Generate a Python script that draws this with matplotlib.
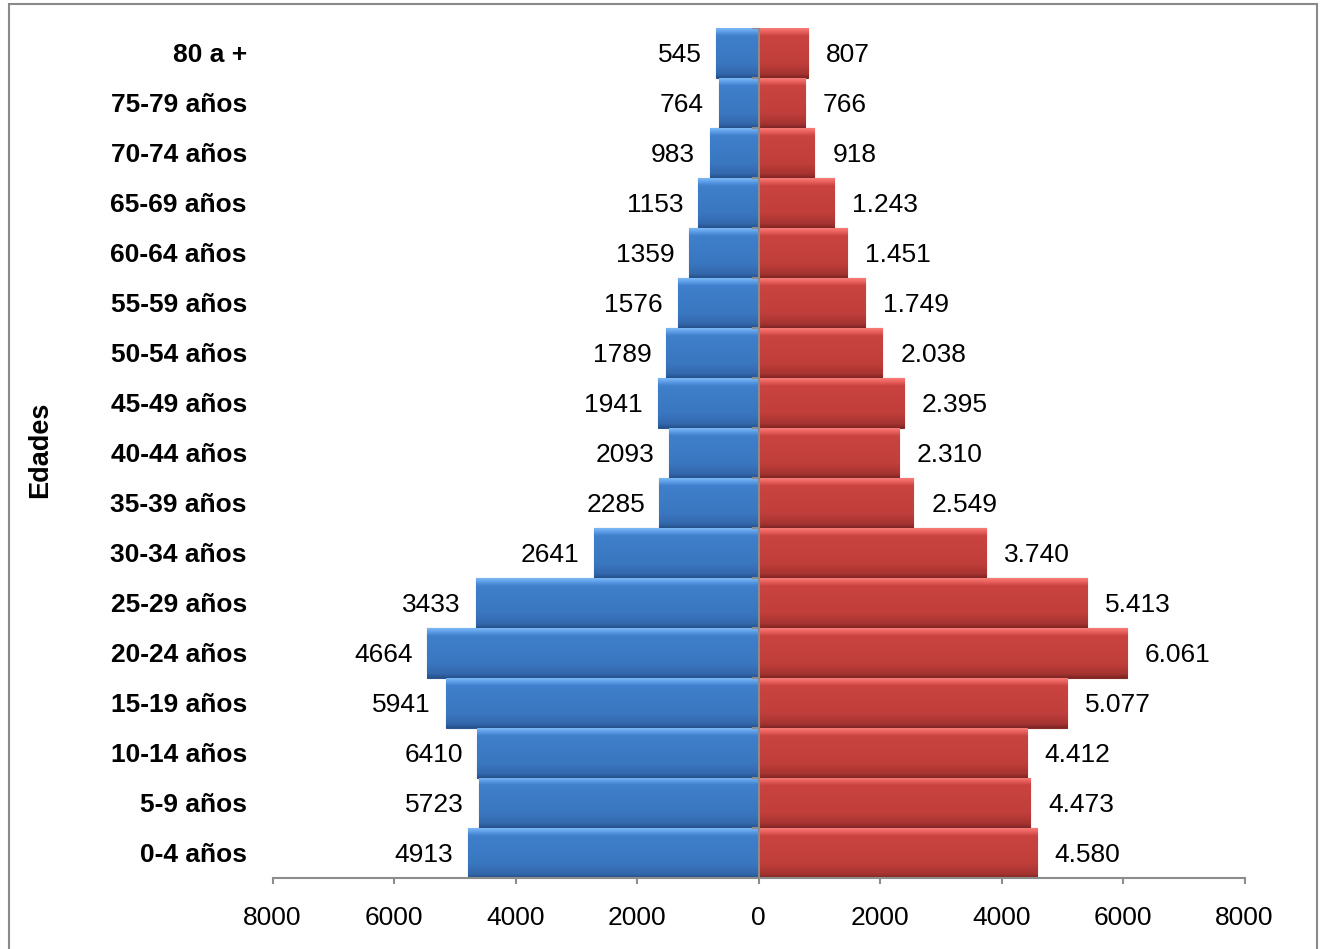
import numpy as np
import matplotlib
matplotlib.use("Agg")
import matplotlib.pyplot as plt
from matplotlib.colors import LinearSegmentedColormap
from matplotlib.patches import Rectangle

plt.rcParams['font.family'] = ['Liberation Sans', 'DejaVu Sans']

edades = ['0-4 años', '5-9 años', '10-14 años', '15-19 años', '20-24 años',
          '25-29 años', '30-34 años', '35-39 años', '40-44 años', '45-49 años',
          '50-54 años', '55-59 años', '60-64 años', '65-69 años', '70-74 años',
          '75-79 años', '80 a +']
# bar lengths as drawn (left side) and the labels written next to them
hombres = [4790, 4609, 4626, 5152, 5449, 4658, 2716, 1630, 1481, 1662,
           1519, 1333, 1136, 988, 806, 658, 696]
hombres_etiq = ['4913', '5723', '6410', '5941', '4664', '3433', '2641', '2285',
                '2093', '1941', '1789', '1576', '1359', '1153', '983', '764', '545']
mujeres = [4580, 4473, 4412, 5077, 6061, 5413, 3740, 2549, 2310, 2395,
           2038, 1749, 1451, 1243, 918, 766, 807]
xticks = [-8000, -6000, -4000, -2000, 0, 2000, 4000, 6000, 8000]

W, H = 1320, 949
fig = plt.figure(figsize=(W / 100, H / 100), dpi=100)
ax = fig.add_axes([272.5 / W, 71.3 / H, 972 / W, 850 / H])

y = np.arange(len(edades))

cmap_azul = LinearSegmentedColormap.from_list(
    'azul', [(0, '#25508a'), (0.08, '#3368ac'), (0.3, '#3a77c1'),
             (0.85, '#3f7fcb'), (0.93, '#5d9de6'), (1, '#7ab8f5')])
cmap_rojo = LinearSegmentedColormap.from_list(
    'rojo', [(0, '#7f2624'), (0.08, '#a63330'), (0.3, '#c13e3b'),
             (0.85, '#c94441'), (0.93, '#e8605c'), (1, '#f87b76')])
grad = np.linspace(0, 1, 100).reshape(-1, 1)

barras_h = ax.barh(y, -np.array(hombres), height=1.0, color='#3a77c1',
                   edgecolor='#2a5590', linewidth=0.8, zorder=2)
barras_m = ax.barh(y, mujeres, height=1.0, color='#c13e3b',
                   edgecolor='#862a28', linewidth=0.8, zorder=2)

for barras, cmap in ((barras_h, cmap_azul), (barras_m, cmap_rojo)):
    for p in barras:
        x0, y0 = p.get_x(), p.get_y()
        w, h = p.get_width(), p.get_height()
        im = ax.imshow(grad, extent=[min(x0, x0 + w), max(x0, x0 + w), y0, y0 + h],
                       cmap=cmap, aspect='auto', origin='lower', zorder=2.5,
                       interpolation='bilinear')
        im.set_clip_path(p)

# value labels
for yi, v, lab in zip(y, hombres, hombres_etiq):
    ax.annotate(lab, xy=(-v, yi), xytext=(-10.5, 0), textcoords='offset points',
                ha='right', va='center_baseline', fontsize=19)
for yi, v in zip(y, mujeres):
    lab = f"{v:,}".replace(',', '.')
    ax.annotate(lab, xy=(v, yi), xytext=(13, 0), textcoords='offset points',
                ha='left', va='center_baseline', fontsize=19)

# central axis with small ticks between categories
gris = '#8c8c8c'
ax.axvline(0, color=gris, lw=1.5, zorder=4)
ax.hlines(np.arange(len(edades) + 1) - 0.5, -110, 0, color=gris, lw=1.5, zorder=4)

ax.set_xlim(-8000, 8000)
ax.set_ylim(-0.5, len(edades) - 0.5)
ax.set_xticks(xticks)
ax.set_xticklabels([str(abs(t)) for t in xticks], fontsize=19)
ax.set_yticks(y)
ax.set_yticklabels(edades, fontsize=19, fontweight='bold', va='center_baseline')
ax.tick_params(axis='y', length=0, pad=18.5)
ax.tick_params(axis='x', length=4.5, width=1.5, color=gris, pad=16)

for s in ('top', 'right', 'left'):
    ax.spines[s].set_visible(False)
ax.spines['bottom'].set_color(gris)
ax.spines['bottom'].set_linewidth(1.5)

fig.text(40 / W, 1 - 450 / H, 'Edades', rotation=90, ha='center', va='center',
         fontsize=19.5, fontweight='bold')

fig.patches.append(Rectangle((9 / W, -0.01), 1308 / W, 1.01 - 4 / H,
                             transform=fig.transFigure, fill=False,
                             edgecolor='#8a8a8a', lw=1.5))

fig.savefig('out.png', dpi=100)
